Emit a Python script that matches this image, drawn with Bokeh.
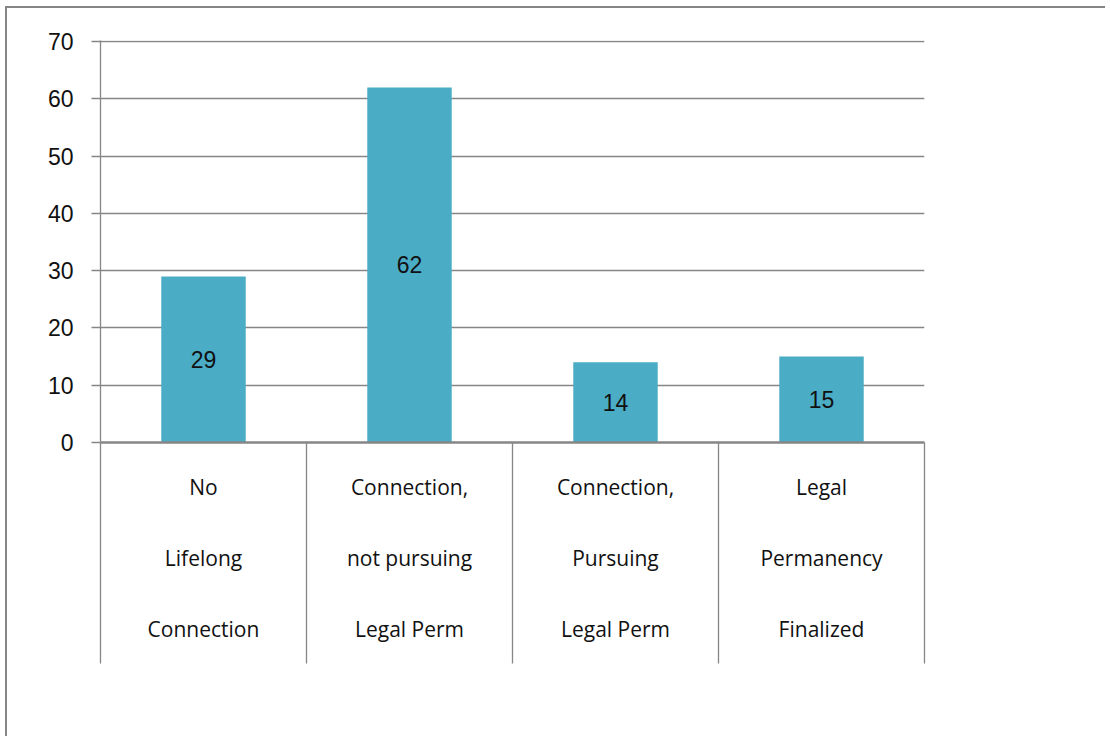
import numpy as np
from bokeh.plotting import figure
from bokeh.models import Range1d, FixedTicker, ColumnDataSource
from bokeh.embed import file_html
from bokeh.resources import INLINE
from bokeh.core.properties import value

categories = ["No\nLifelong\nConnection",
              "Connection,\nnot pursuing\nLegal Perm",
              "Connection,\nPursuing\nLegal Perm",
              "Legal\nPermanency\nFinalized"]
counts = [29, 62, 14, 15]
y_ticks = [0, 10, 20, 30, 40, 50, 60, 70]

GRAY = "#868686"
BAR = "#4BACC6"
NUM_FONT = "Liberation Sans"
CAT_FONT = "Open Sans"

centers = [i + 0.5 for i in range(len(categories))]
bounds = list(range(len(categories) + 1))

src = ColumnDataSource(dict(
    x=centers,
    top=counts,
    mid=[c / 2 for c in counts],
    lbl=[str(c) for c in counts],
))

p = figure(width=1100, height=730, output_backend="svg", toolbar_location=None,
           x_range=Range1d(0, len(categories)), y_range=Range1d(0, 70.2),
           min_border_left=93, min_border_right=183, min_border_top=32,
           min_border_bottom=296,
           styles={"border-left": "2px solid #868686", "border-top": "2px solid #868686",
                   "margin-left": "5px", "margin-top": "6px"})
p.outline_line_color = None
p.background_fill_color = "white"
p.border_fill_color = "white"

p.vbar(x="x", top="top", width=0.41, bottom=0, source=src,
       fill_color=BAR, line_color=None)
p.text(x="x", y="mid", text="lbl", source=src, text_align="center",
       text_baseline="middle", text_font=value(NUM_FONT), text_font_size="23px",
       text_color="#111111")

# y axis
yt = FixedTicker(ticks=y_ticks)
p.yaxis.ticker = yt
p.ygrid.ticker = yt
p.ygrid.grid_line_color = GRAY
p.ygrid.grid_line_width = 1.3
p.yaxis.axis_line_color = GRAY
p.yaxis.axis_line_width = 1.3
p.yaxis.major_tick_line_color = GRAY
p.yaxis.major_tick_line_width = 1.3
p.yaxis.major_tick_in = 0
p.yaxis.major_tick_out = 9
p.yaxis.minor_tick_line_color = None
p.yaxis.major_label_standoff = 18
p.yaxis.major_label_text_font = NUM_FONT
p.yaxis.major_label_text_font_size = "23px"
p.yaxis.major_label_text_color = "#111111"

# x axis: category table
p.xgrid.grid_line_color = None
xt = FixedTicker(ticks=centers, minor_ticks=bounds)
p.xaxis.ticker = xt
p.xaxis.major_label_overrides = {c: lab for c, lab in zip(centers, categories)}
p.xaxis.axis_line_color = GRAY
p.xaxis.axis_line_width = 2.5
p.xaxis.major_tick_line_color = None
p.xaxis.major_tick_out = 0
p.xaxis.major_tick_in = 0
p.xaxis.minor_tick_line_color = GRAY
p.xaxis.minor_tick_line_width = 1.3
p.xaxis.minor_tick_in = 0
p.xaxis.minor_tick_out = 221
p.xaxis.major_label_standoff = -191
p.xaxis.major_label_text_font = CAT_FONT
p.xaxis.major_label_text_font_size = "21px"
p.xaxis.major_label_text_color = "#111111"
p.xaxis.major_label_text_line_height = 2.545

open("out.html", "w").write(file_html(p, INLINE))
